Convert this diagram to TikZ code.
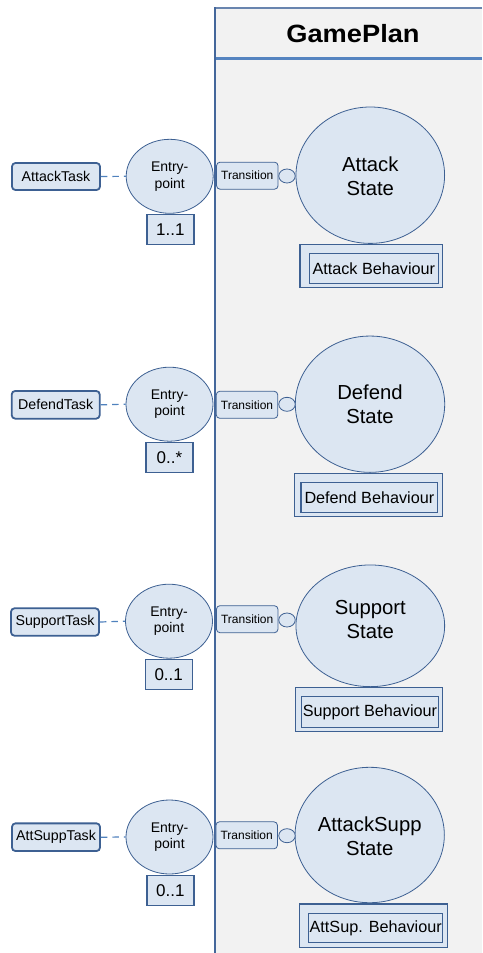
\documentclass[tikz,border=0pt]{standalone}
\usepackage{fontspec}
\setmainfont{Liberation Sans}
\usetikzlibrary{shapes.geometric}

\definecolor{boxfill}{HTML}{DCE6F2}
\definecolor{edgeblue}{HTML}{3D6092}
\definecolor{panelfill}{HTML}{F2F2F2}
\definecolor{panelline}{HTML}{44679B}
\definecolor{headline}{HTML}{5584C0}
\definecolor{dashblue}{HTML}{4F81BD}

\tikzset{
  taskbox/.style={draw=edgeblue, fill=boxfill, line width=1.8pt, rounded corners=3.5pt,
    inner sep=0pt, font=\fontsize{14.2}{16}\selectfont},
  entrypt/.style={ellipse, draw=edgeblue, fill=boxfill, line width=0.8pt, inner sep=0pt,
    minimum width=87pt, minimum height=74pt, align=center,
    font=\fontsize{14}{16.7}\selectfont},
  multbox/.style={draw=edgeblue, fill=boxfill, line width=1.4pt, inner sep=0pt,
    minimum width=47pt, minimum height=30pt, font=\fontsize{17}{18}\selectfont},
  transbox/.style={draw=edgeblue, fill=boxfill, line width=0.8pt, rounded corners=3.5pt,
    inner sep=0pt, minimum width=61.5pt, minimum height=27pt,
    font=\fontsize{12}{13}\selectfont},
  port/.style={ellipse, draw=edgeblue, fill=boxfill, line width=0.8pt, inner sep=0pt,
    minimum width=16.5pt, minimum height=14pt},
  statecirc/.style={ellipse, draw=edgeblue, fill=boxfill, line width=0.8pt, inner sep=0pt},
  statetext/.style={align=center, inner sep=0pt, font=\fontsize{20.3}{24}\selectfont},
  behouter/.style={draw=edgeblue, fill=boxfill, line width=1.2pt, inner sep=0pt},
  behinner/.style={draw=edgeblue, fill=boxfill, line width=1.2pt, inner sep=0pt,
    font=\fontsize{16.2}{18}\selectfont},
  link/.style={draw=dashblue, line width=1.2pt, dash pattern=on 6.5pt off 5pt}
}

\begin{document}
\begin{tikzpicture}[x=1pt, y=-1pt]
  \useasboundingbox (0,0) rectangle (482,953);
  \fill[white] (0,0) rectangle (482,953);

  % GamePlan container
  \fill[panelfill] (214,8) rectangle (482,953);
  \draw[panelline!80, line width=1.3pt] (214,8) -- (482,8);
  \draw[headline, line width=3pt] (215,58.5) -- (482,58.5);
  \draw[panelline, line width=2pt] (214.5,7.4) -- (214.5,953);
  \node[font=\bfseries\fontsize{25}{28}\selectfont, inner sep=0pt] (title) at (353,34)
    {\scalebox{1.09}[1]{GamePlan}};

  % ---------- Attack ----------
  \node[taskbox, minimum width=88pt, minimum height=27pt] (t1) at (56,176.5) {AttackTask};
  \node[entrypt] (e1) at (169.7,176.3) {Entry-\\point};
  \node[multbox] (m1) at (170.3,229.3) {1..1};
  \node[transbox] (tr1) at (247.3,175.7) {Transition};
  \node[statecirc, minimum width=148.6pt, minimum height=136.4pt] (s1) at (370.3,175.2) {};
  \node[port] (p1) at (287,176) {};
  \node[statetext] (l1) at (370.3,176) {Attack\\State};
  \node[behouter, minimum width=142.7pt, minimum height=43.4pt] (bo1) at (371.35,266) {};
  \node[behinner, minimum width=129pt, minimum height=29.6pt] (b1) at (373.8,268.5) {Attack Behaviour};
  \draw[link] (t1.east) -- (e1.west);

  % ---------- Defend ----------
  \node[taskbox, minimum width=88pt, minimum height=27.7pt] (t2) at (55.7,404.8) {DefendTask};
  \node[entrypt] (e2) at (169.5,404.2) {Entry-\\point};
  \node[multbox] (m2) at (169.5,457.5) {0..*};
  \node[transbox] (tr2) at (247,404.8) {Transition};
  \node[statecirc, minimum width=149.4pt, minimum height=136.3pt] (s2) at (370,404.2) {};
  \node[port] (p2) at (287,404.3) {};
  \node[statetext] (l2) at (370,404.5) {Defend\\State};
  \node[behouter, minimum width=148.4pt, minimum height=43.4pt] (bo2) at (368.5,495) {};
  \node[behinner, minimum width=136.7pt, minimum height=30pt] (b2) at (369.35,497.3) {Defend Behaviour};
  \draw[link] (t2.east) -- (e2.west);

  % ---------- Support ----------
  \node[taskbox, minimum width=88pt, minimum height=27.4pt] (t3) at (55,622) {SupportTask};
  \node[entrypt] (e3) at (169,621.2) {Entry-\\point};
  \node[multbox] (m3) at (168.7,674.3) {0..1};
  \node[transbox] (tr3) at (247.2,619.2) {Transition};
  \node[statecirc, minimum width=148.7pt, minimum height=121.7pt] (s3) at (370.3,625.8) {};
  \node[port] (p3) at (287,620) {};
  \node[statetext] (l3) at (370.3,620) {Support\\State};
  \node[behouter, minimum width=147pt, minimum height=44pt] (bo3) at (369.2,709.7) {};
  \node[behinner, minimum width=136.6pt, minimum height=30.6pt] (b3) at (370,712) {Support Behaviour};
  \draw[link] (t3.east) -- (e3.west);

  % ---------- AttackSupp ----------
  \node[taskbox, minimum width=88pt, minimum height=27.7pt] (t4) at (56,837.2) {AttSuppTask};
  \node[entrypt] (e4) at (169.5,837) {Entry-\\point};
  \node[multbox] (m4) at (170.3,890.3) {0..1};
  \node[transbox] (tr4) at (246.7,835.3) {Transition};
  \node[statecirc, minimum width=149.3pt, minimum height=135.4pt] (s4) at (369.7,835) {};
  \node[port] (p4) at (287,835.7) {};
  \node[statetext] (l4) at (369.7,836.5) {AttackSupp\\State};
  \node[behouter, minimum width=148.4pt, minimum height=43.3pt] (bo4) at (373.5,925.7) {};
  \node[behinner, minimum width=134pt, minimum height=29.4pt] (b4) at (375.7,928) {AttSup. Behaviour};
  \draw[link] (t4.east) -- (e4.west);
\end{tikzpicture}
\end{document}
